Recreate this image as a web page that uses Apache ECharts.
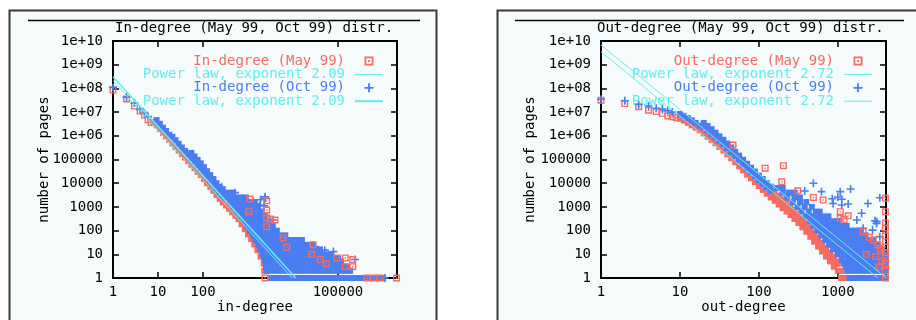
<!DOCTYPE html>
<html><head><meta charset="utf-8">
<script src="https://cdn.jsdelivr.net/npm/echarts@6/dist/echarts.min.js"></script>
<style>html,body{margin:0;padding:0;background:#fff}#c{width:916px;height:320px}</style>
</head><body><div id="c"></div><script>
// ---------- In-degree (left panel) ----------
const inMayHead = [[1,8.5e7],[2,3.6e7],[3,1.8e7],[4,1.1e7],[5,7.5e6],[6,4.8e6],[7,3.6e6]];
const inMayBand = [[7.9,3.8e6],[9.3,2.75e6],[11,1.95e6],[12.9,1.35e6],[15.1,9.5e5],[17.8,6.8e5],[20.9,4.8e5],[24.5,3.4e5],[28.8,2.4e5],[33.9,1.7e5],[39.8,1.2e5],[46.8,8.5e4],[55,6.0e4],[64.6,4.3e4],[76,3.0e4],[89,2.2e4],[105,1.5e4],[123,1.0e4],[145,7100],[170,4800],[200,3200],[234,2200],[275,1550],[324,1150],[380,830],[447,590],[525,420],[617,300],[724,185],[851,115],[1000,70],[1175,44],[1380,26],[1620,15],[1900,8],[2240,4],[2300,2],[2500,2],[214,4500],[295,2100],[407,1150],[562,560],[776,240],[1070,91],[1480,33],[2000,10]];
const inMayOut = [[1100,2150],[2600,1800],[2600,740],[1050,630],[2600,340],[3100,310],[4000,280],[2600,145],[6000,49],[7300,20],[28000,25],[26000,10],[40000,6],[55000,4],[94000,7],[145000,7],[213000,6],[213000,3],[145000,3],[2400,1],[440000,1],[620000,1],[850000,1],[2000000,1]];
const inMayFit = [[1,2.1e8],[9600,1]];
const inOctHead = [[1,1.1e8],[2,4.3e7],[3,2.4e7],[4,1.3e7],[5,9e6],[6,6.5e6]];
const inOctBand = [[9.3,4.6e6],[11,3.2e6],[12.9,2.2e6],[15.1,1.6e6],[17.8,1.1e6],[20.9,9.1e5],[24.5,6.5e5],[28.8,4.6e5],[33.9,3.2e5],[39.8,2.3e5],[46.8,1.6e5],[55,1.15e5],[55,1.9e5],[64.6,8.1e4],[64.6,1.35e5],[76,5.8e4],[76,9.5e4],[89,4.2e4],[89,6.9e4],[105,2.9e4],[105,4.8e4],[123,1.95e4],[123,3.2e4],[145,1.35e4],[145,2.2e4],[170,9100],[170,1.5e4],[200,6200],[200,1.0e4],[234,4200],[234,6900],[275,3000],[275,4900]];
const inOctCloud = [
  [4000,[355,468]],
  [2500,[309,407,537,708,891]],
  [1600,[398,525,692,912,1200,1410]],
  [1000,[479,631,832,1100,1450,1590]],
  [630,[589,776,1020,1350,1780,2000]],
  [400,[708,933,1230,1620,2140,2400]],
  [250,[832,1100,1450,1900,2510,2820]],
  [160,[955,1260,1660,2190,2880,3550]],
  [100,[1100,1450,1900,2510,3310,4370]],
  [63,[1290,1700,2240,2950,3890,5130,6760]],
  [40,[1480,1950,2570,3390,4470,5890,7760,10200,13500,15800]],
  [25,[1700,2240,2950,3890,5130,6760,8910,11700,15500,20400,26900]],
  [16,[1900,2510,3310,4370,5750,7590,10000,13200,17400,22900,30200,39800]],
  [10,[2140,2820,3720,4900,6460,8510,11200,14800,19500,25700,33900,44700,58900,70800]],
  [7,[2290,3020,3980,5250,6920,9120,12000,15800,20900,27500,36300,47900,63100,83200,100000]],
  [5,[2450,3240,4270,5620,7410,9770,12900,17000,22400,29500,38900,51300,67600,89100,117000]],
  [3,[2510,3310,4370,5750,7590,10000,13200,17400,22900,30200,39800,52500,69200,91200,120000,158000]],
  [2,[2630,3470,4570,6030,7940,10500,13800,18200,24000,31600,41700,55000,72400,95500,126000,166000,186000]],
  [1,[3160,4170,5500,7240,9550,12600,16600,21900,28800,38000,50100,66100,87100,115000,151000,200000,263000,347000,457000,603000,794000,1000000]]
];
const inOctOut = [[260,7000],[510,4000],[2400,2300],[2400,2700],[1860,1200],[1860,630],[2000,360],[3100,280],[3600,280],[950,1800],[1300,1700],[1500,1400],[1900,2000],[2300,1100],[11000,31],[14000,31],[12000,34],[7240,25],[31000,21],[51000,15],[79000,13],[85000,6],[240000,6],[1100000,1]];
const inOctFit = [[1,3.1e8],[11500,1]];
const inXLabels = [1,10,100,100000];
const inXTicks = [10,100,100000];

// ---------- Out-degree (right panel) ----------
const outMayHead = [[1,3.2e7],[2,2.3e7],[3,1.7e7],[4,1.2e7],[5,1.05e7],[6,8.9e6],[7,6.9e6],[8,6.3e6],[9,5.8e6]];
const outMayBand = [[10,5.2e6],[11.2,4.4e6],[12.6,3.5e6],[14.1,2.8e6],[15.8,2.2e6],[17.8,1.7e6],[20,1.26e6],[22.4,9.1e5],[25.1,6.6e5],[28.2,4.8e5],[31.6,3.4e5],[35.5,2.4e5],[39.8,1.66e5],[44.7,1.12e5],[50.1,7.6e4],[56.2,5.1e4],[63.1,3.5e4],[70.8,2.3e4],[79.4,1.6e4],[89.1,1.1e4],[100,7600],[112,5200],[126,3600],[141,2500],[158,1800],[178,1260],[200,890],[224,630],[251,450],[282,310],[316,210],[355,138],[398,89],[447,55],[501,34],[562,21],[631,13],[708,8],[794,5],[891,3],[1000,2],[1120,2],[1100,1],[1200,1],[1300,1],[1400,1],[1500,1],
  [158,2800],[158,4300],[178,2000],[178,3000],[200,1400],[200,2100],[224,1000],[224,1500],[251,710],[251,1070],[282,490],[282,740],[316,330],[316,500],[355,219],[355,330],[398,141],[398,214],[447,87],[447,132],[501,54],[501,81],[562,33],[562,50],[631,20],[631,30],[708,13],[708,19],[794,8],[794,12],[891,5],[891,8],[1000,4],[1000,5]];
const outMayOut = [[47,4.1e5],[120,4.3e4],[204,5.5e4],[195,1.15e4],[310,4800],[490,2500],[650,1950],[1070,630],[1070,330],[1200,300],[1350,420],[2090,90],[2500,52],[2800,40],[3200,25],[3500,15],[3400,18],[2300,10],[3000,8],[3600,5],[3300,3],[4000,2300],[4000,630],[4000,210],[4000,130],[4000,60],[4000,35],[4000,20],[4000,12],[4000,7],[4000,4],[4000,2],[4000,1]];
const outMayFit = [[1,3.5e9],[3215,1]];
const outOctHead = [[1,3.5e7],[2,3.0e7],[3,2.1e7],[4,1.8e7],[5,1.45e7],[6,1.35e7],[7,1.15e7],[8,1.0e7]];
const outOctBand = [[10,8.3e6],[11.2,6.9e6],[12.6,5.6e6],[14.1,4.5e6],[15.8,3.5e6],[17.8,2.7e6],[20,2.3e6],[20,3.5e6],[22.4,1.66e6],[22.4,2.6e6],[25.1,1.2e6],[25.1,1.9e6],[28.2,8.7e5],[28.2,1.35e6],[31.6,6.2e5],[31.6,9.5e5],[35.5,4.4e5],[35.5,6.8e5],[39.8,3.0e5],[39.8,4.7e5],[44.7,2.0e5],[44.7,3.2e5],[50.1,1.4e5],[50.1,2.1e5],[56.2,9.3e4],[56.2,1.45e5],[63.1,6.3e4],[63.1,9.8e4],[70.8,4.3e4],[70.8,6.6e4],[79.4,2.9e4],[79.4,4.5e4],[89.1,2.0e4],[89.1,3.1e4],[100,1.38e4],[100,2.1e4],[112,9500],[112,1.5e4],[126,6600],[126,1.0e4],[141,4600],[141,7100]];
const outOctCloud = [
  [6300,[170,200]],
  [4000,[200,240,282]],
  [2500,[229,282,331]],
  [1600,[269,331,398]],
  [1000,[309,380,468]],
  [630,[347,427,525,589]],
  [400,[398,468,550,646,759]],
  [250,[447,525,617,724,851,1000]],
  [160,[490,575,676,794,933,1100,1290]],
  [100,[550,646,759,891,1050,1230,1450,1700,1900]],
  [63,[617,724,851,1000,1180,1380,1620,1900,2240]],
  [40,[692,813,955,1120,1320,1550,1820,2140,2510,2820]],
  [25,[776,912,1070,1260,1480,1740,2040,2400,2820,3160]],
  [16,[871,1020,1200,1410,1660,1950,2290,2690,3160,3630]],
  [10,[1000,1180,1380,1620,1900,2240,2630,3090,3630,4070]],
  [6,[1120,1320,1550,1820,2140,2510,2950,3470,4070]],
  [4,[1200,1410,1660,1950,2290,2690,3160,3720,4070]],
  [3,[1260,1480,1740,2040,2400,2820,3310,3890]],
  [2,[1320,1550,1820,2140,2510,2950,3470,4070]],
  [1,[1410,1660,1950,2290,2690,3160,3720,4070]]
];
const outOctOut = [[490,1.0e4],[620,4400],[1070,4400],[1450,5700],[2400,1400],[3400,2450],[870,1400],[1120,1200],[1350,1320],[2000,540],[1740,280],[3090,200],[2090,125],[2750,105],[3400,55],[380,4700],[1120,2100],[2950,260],[3100,240],[850,2200],[1000,2600]];
const outOctFit = [[1,6.8e9],[4110,1]];
const outXLabels = [1,10,100,1000];
const outXTicks = [10,100,1000];

const yValues = [1,10,100,1000,1e4,1e5,1e6,1e7,1e8,1e9,1e10];

// ---------- styling ----------
const FONT = "'DejaVu Sans Mono', 'Liberation Mono', monospace";
const RED = '#f86a62', BLUE = '#4a7df2', CYAN = '#62eeee';
const SQ = 'path://M0,0H10V10H0ZM2,2V8H8V2ZM4,4H6V6H4Z';
const PLUS = 'path://M4,0H6V4H10V6H6V10H4V6H0V4H4Z';
const LINE1 = 'path://M0,0H28V1H0Z';
const LINE2 = 'path://M0,0H28V2H0Z';
const rowsToPoints = rows => rows.flatMap(([n, ks]) => ks.map(k => [k, n]));
const yFmt = v => v >= 1e6 ? '1e+' + String(Math.round(Math.log10(v))).padStart(2, '0') : String(Math.round(v));
const txt = {fontFamily: FONT, fontSize: 14, color: '#000'};

function xAxisPair(gi, max, labels, ticks, name) {
  const base = {type: 'log', logBase: 10, gridIndex: gi, min: 1, max: max,
    splitLine: {show: false}, minorTick: {show: false},
    axisLine: {show: true, lineStyle: {color: '#000', width: 2}},
    axisTick: {show: true, inside: true, length: 6, customValues: ticks, lineStyle: {color: '#000', width: 1.5}}};
  return [
    Object.assign({}, base, {position: 'bottom', name: name, nameLocation: 'middle', nameGap: 22, nameMoveOverlap: false, nameTextStyle: txt,
      axisLabel: Object.assign({customValues: labels, margin: 7, formatter: v => String(Math.round(v))}, txt)}),
    Object.assign({}, base, {position: 'top', axisLabel: {show: false}})
  ];
}
function yAxisPair(gi, nameGap) {
  const base = {type: 'log', logBase: 10, gridIndex: gi, min: 1, max: 1e10,
    splitLine: {show: false}, minorTick: {show: false},
    axisLine: {show: true, lineStyle: {color: '#000', width: 2}},
    axisTick: {show: true, inside: true, length: 6, customValues: yValues, lineStyle: {color: '#000', width: 1.5}}};
  return [
    Object.assign({}, base, {position: 'left', name: 'number of pages', nameLocation: 'middle', nameGap: nameGap, nameMoveOverlap: false, nameTextStyle: txt,
      axisLabel: Object.assign({customValues: yValues, margin: 10, formatter: yFmt}, txt)}),
    Object.assign({}, base, {position: 'right', axisLabel: {show: false}})
  ];
}
function sc(xi, data, symbol, size, color, name) {
  const s = {type: 'scatter', xAxisIndex: xi, yAxisIndex: xi, data: data, symbol: symbol, symbolSize: size,
    itemStyle: {color: color, opacity: 1}, clip: false, silent: true};
  if (name) s.name = name;
  return s;
}
function ln(xi, data, width, name) {
  return {type: 'line', name: name, xAxisIndex: xi, yAxisIndex: xi, data: data, symbol: 'none', showSymbol: false,
    lineStyle: {color: CYAN, width: width}, itemStyle: {color: CYAN}, silent: true};
}
function legend(right, names, secondLineIcon) {
  return {orient: 'vertical', align: 'right', right: right, top: 54, padding: 0, itemGap: -0.6,
    itemWidth: 28, itemHeight: 9, selectedMode: false, symbolKeepAspect: true,
    formatter: n => n.replace(/#\d$/, ''),
    textStyle: {fontFamily: FONT, fontSize: 14, lineHeight: 12, padding: [0, 5, 0, 0]},
    data: [
      {name: names[0], icon: SQ, itemStyle: {color: RED}, textStyle: {color: RED}},
      {name: names[1], icon: LINE1, itemStyle: {color: CYAN}, textStyle: {color: CYAN}},
      {name: names[2], icon: PLUS, itemStyle: {color: BLUE}, textStyle: {color: BLUE}},
      {name: names[3], icon: secondLineIcon, itemStyle: {color: CYAN}, textStyle: {color: CYAN}}
    ]};
}

const inNames = ['In-degree (May 99)', 'Power law, exponent 2.09#1', 'In-degree (Oct 99)', 'Power law, exponent 2.09#2'];
const outNames = ['Out-degree (May 99)', 'Power law, exponent 2.72#1', 'Out-degree (Oct 99)', 'Power law, exponent 2.72#2'];

const chart = echarts.init(document.getElementById('c'), null, {renderer: 'canvas'});
chart.setOption({
  animation: false,
  backgroundColor: '#ffffff',
  title: [
    {text: 'In-degree (May 99, Oct 99) distr.', left: 115, top: 21, padding: 0, textStyle: Object.assign({fontWeight: 'normal'}, txt)},
    {text: 'Out-degree (May 99, Oct 99) distr.', left: 597, top: 21, padding: 0, textStyle: Object.assign({fontWeight: 'normal'}, txt)}
  ],
  graphic: [
    {type: 'rect', z: -10, silent: true, shape: {x: 9.5, y: 10.5, width: 427, height: 340}, style: {fill: '#f5fbfb', stroke: '#3a3a3a', lineWidth: 2}},
    {type: 'rect', z: -10, silent: true, shape: {x: 497.5, y: 10.5, width: 440, height: 340}, style: {fill: '#f5fbfb', stroke: '#3a3a3a', lineWidth: 2}},
    {type: 'line', z: -5, silent: true, shape: {x1: 28, y1: 20.5, x2: 420, y2: 20.5}, style: {stroke: '#000', lineWidth: 1.5}},
    {type: 'line', z: -5, silent: true, shape: {x1: 515, y1: 20.5, x2: 904, y2: 20.5}, style: {stroke: '#000', lineWidth: 1.5}}
  ],
  legend: [legend(533, inNames, LINE2), legend(44, outNames, LINE1)],
  grid: [
    {left: 113, top: 41, width: 284, height: 237, containLabel: false, outerBoundsMode: 'none'},
    {left: 601, top: 41, width: 285, height: 237, containLabel: false, outerBoundsMode: 'none'}
  ],
  xAxis: [].concat(xAxisPair(0, 2.05e6, inXLabels, inXTicks, 'in-degree'), xAxisPair(1, 4070, outXLabels, outXTicks, 'out-degree')),
  yAxis: [].concat(yAxisPair(0, 62), yAxisPair(1, 64)),
  series: [
    // left
    sc(0, inMayBand, 'rect', 6, RED),
    sc(0, inMayHead, SQ, 7, RED, inNames[0]),
    ln(0, inMayFit, 1, inNames[1]),
    sc(0, inOctBand.concat(rowsToPoints(inOctCloud)), 'rect', 6, BLUE),
    sc(0, inOctHead.concat(inOctOut), PLUS, 8, BLUE, inNames[2]),
    sc(0, inMayOut, SQ, 7, RED),
    ln(0, inOctFit, 1.6, inNames[3]),
    // right (axes index 2)
    sc(2, outMayBand, 'rect', 6, RED),
    sc(2, outMayHead, SQ, 7, RED, outNames[0]),
    ln(2, outMayFit, 1, outNames[1]),
    sc(2, outOctBand.concat(rowsToPoints(outOctCloud)), 'rect', 6, BLUE),
    sc(2, outOctHead.concat(outOctOut), PLUS, 8, BLUE, outNames[2]),
    sc(2, outMayOut, SQ, 7, RED),
    ln(2, outOctFit, 1, outNames[3])
  ]
});
</script></body></html>
